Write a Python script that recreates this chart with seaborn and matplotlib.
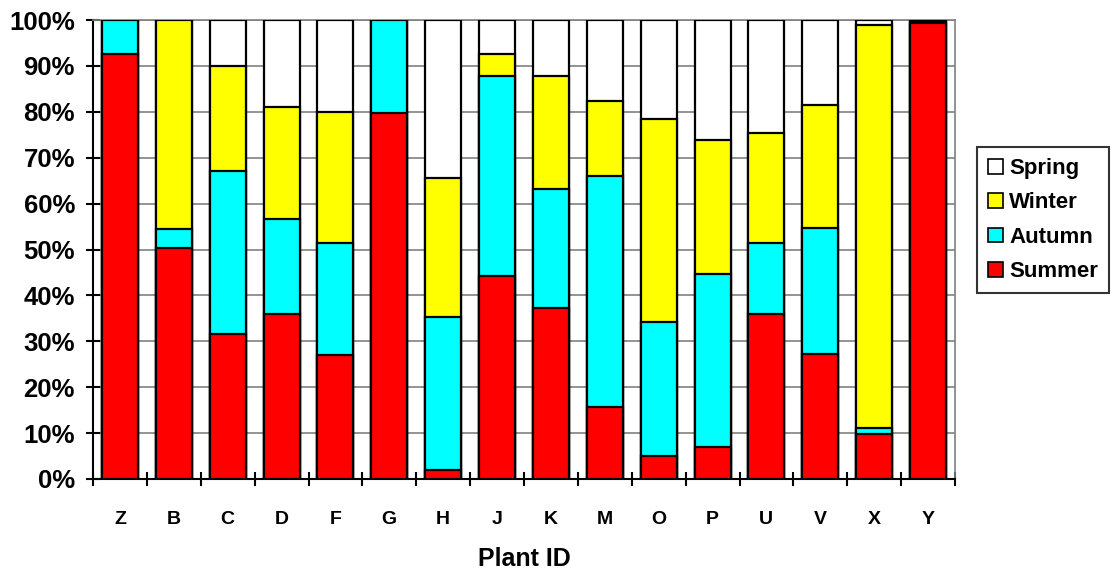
import numpy as np
import pandas as pd
import matplotlib
import matplotlib.pyplot as plt
from matplotlib.patches import Patch
from matplotlib.ticker import FixedLocator
import seaborn as sns

matplotlib.use("Agg")

# 数据（从图中读取的百分比）
plants = ["Z", "B", "C", "D", "F", "G", "H", "J", "K", "M", "O", "P", "U", "V", "X", "Y"]
summer = [92.6, 50.3, 31.5, 35.9, 27.0, 79.7, 1.9, 44.2, 37.2, 15.6, 5.1, 6.9, 36.0, 27.2, 9.8, 99.3]
autumn = [7.4, 4.2, 35.7, 20.7, 24.4, 20.3, 33.3, 43.5, 25.9, 50.4, 29.1, 37.7, 15.5, 27.4, 1.4, 0.0]
winter = [0.0, 45.5, 22.8, 24.4, 28.5, 0.0, 30.3, 4.8, 24.8, 16.4, 44.3, 29.3, 23.8, 26.8, 87.8, 0.4]
spring = [0.0, 0.0, 10.0, 19.0, 20.1, 0.0, 34.5, 7.5, 12.1, 17.6, 21.5, 26.1, 24.7, 18.6, 1.0, 0.3]

seasons = ["Summer", "Autumn", "Winter", "Spring"]
colors = {"Summer": "#FF0000", "Autumn": "#00FFFF", "Winter": "#FFFF00", "Spring": "#FFFFFF"}

df = pd.DataFrame({"plant": plants, "Summer": summer, "Autumn": autumn,
                   "Winter": winter, "Spring": spring})
# 累计值，用于叠加绘制
cum = df[seasons].cumsum(axis=1)

sns.set_style("white")
plt.rcParams["font.family"] = ["Liberation Sans", "DejaVu Sans"]
plt.rcParams["font.weight"] = "bold"
plt.rcParams["text.color"] = "black"
plt.rcParams["axes.labelcolor"] = "black"
plt.rcParams["xtick.color"] = "black"
plt.rcParams["ytick.color"] = "black"

fig = plt.figure(figsize=(11.13, 5.73), dpi=100)
ax = fig.add_axes([93 / 1113, 94 / 573, 862 / 1113, 459 / 573])

# 从最高的累计值开始画，后画的覆盖前面的
for s in reversed(seasons):
    sns.barplot(x=df["plant"], y=cum[s], color=colors[s], saturation=1,
                edgecolor="black", linewidth=1.6, width=0.67, ax=ax, zorder=3)

ax.set_ylim(0, 100)
ax.set_xlim(-0.5, len(plants) - 0.5)
ax.set_yticks(np.arange(0, 101, 10))
ax.set_yticklabels([f"{v}%" for v in range(0, 101, 10)], fontsize=18.5, fontweight="bold")
ax.set_xticks(range(len(plants)))
ax.set_xticklabels(plants, fontsize=14, fontweight="bold")
ax.xaxis.set_minor_locator(FixedLocator(np.arange(-0.5, len(plants), 1)))
ax.tick_params(axis="x", which="major", bottom=True, length=0, pad=23)
ax.tick_params(axis="x", which="minor", bottom=True, direction="inout", length=10, width=1.5)
ax.tick_params(axis="y", which="major", left=True, direction="inout", length=10, width=1.5, pad=8)

ax.yaxis.grid(True, color="#808080", linewidth=1.2, zorder=0)
ax.set_axisbelow(True)
ax.set_ylabel("")
ax.set_xlabel("Plant ID", fontsize=18, fontweight="bold", labelpad=14)

ax.spines["left"].set_color("black")
ax.spines["left"].set_linewidth(1.5)
ax.spines["bottom"].set_color("black")
ax.spines["bottom"].set_linewidth(1.5)
for side in ["top", "right"]:
    ax.spines[side].set_color("#808080")
    ax.spines[side].set_linewidth(1.2)

handles = [Patch(facecolor=colors[s], edgecolor="black", linewidth=1.2, label=s)
           for s in reversed(seasons)]
leg = fig.legend(handles=handles, loc="upper left",
                 bbox_to_anchor=(977 / 1113, 1 - 147 / 573), fontsize=16,
                 frameon=True, fancybox=False, edgecolor="black",
                 handlelength=0.65, handleheight=0.65, handletextpad=0.3,
                 labelspacing=0.6, borderpad=0.5, borderaxespad=0)
leg.get_frame().set_linewidth(1.5)
for t in leg.get_texts():
    t.set_fontweight("bold")

fig.savefig("out.png", dpi=100)
